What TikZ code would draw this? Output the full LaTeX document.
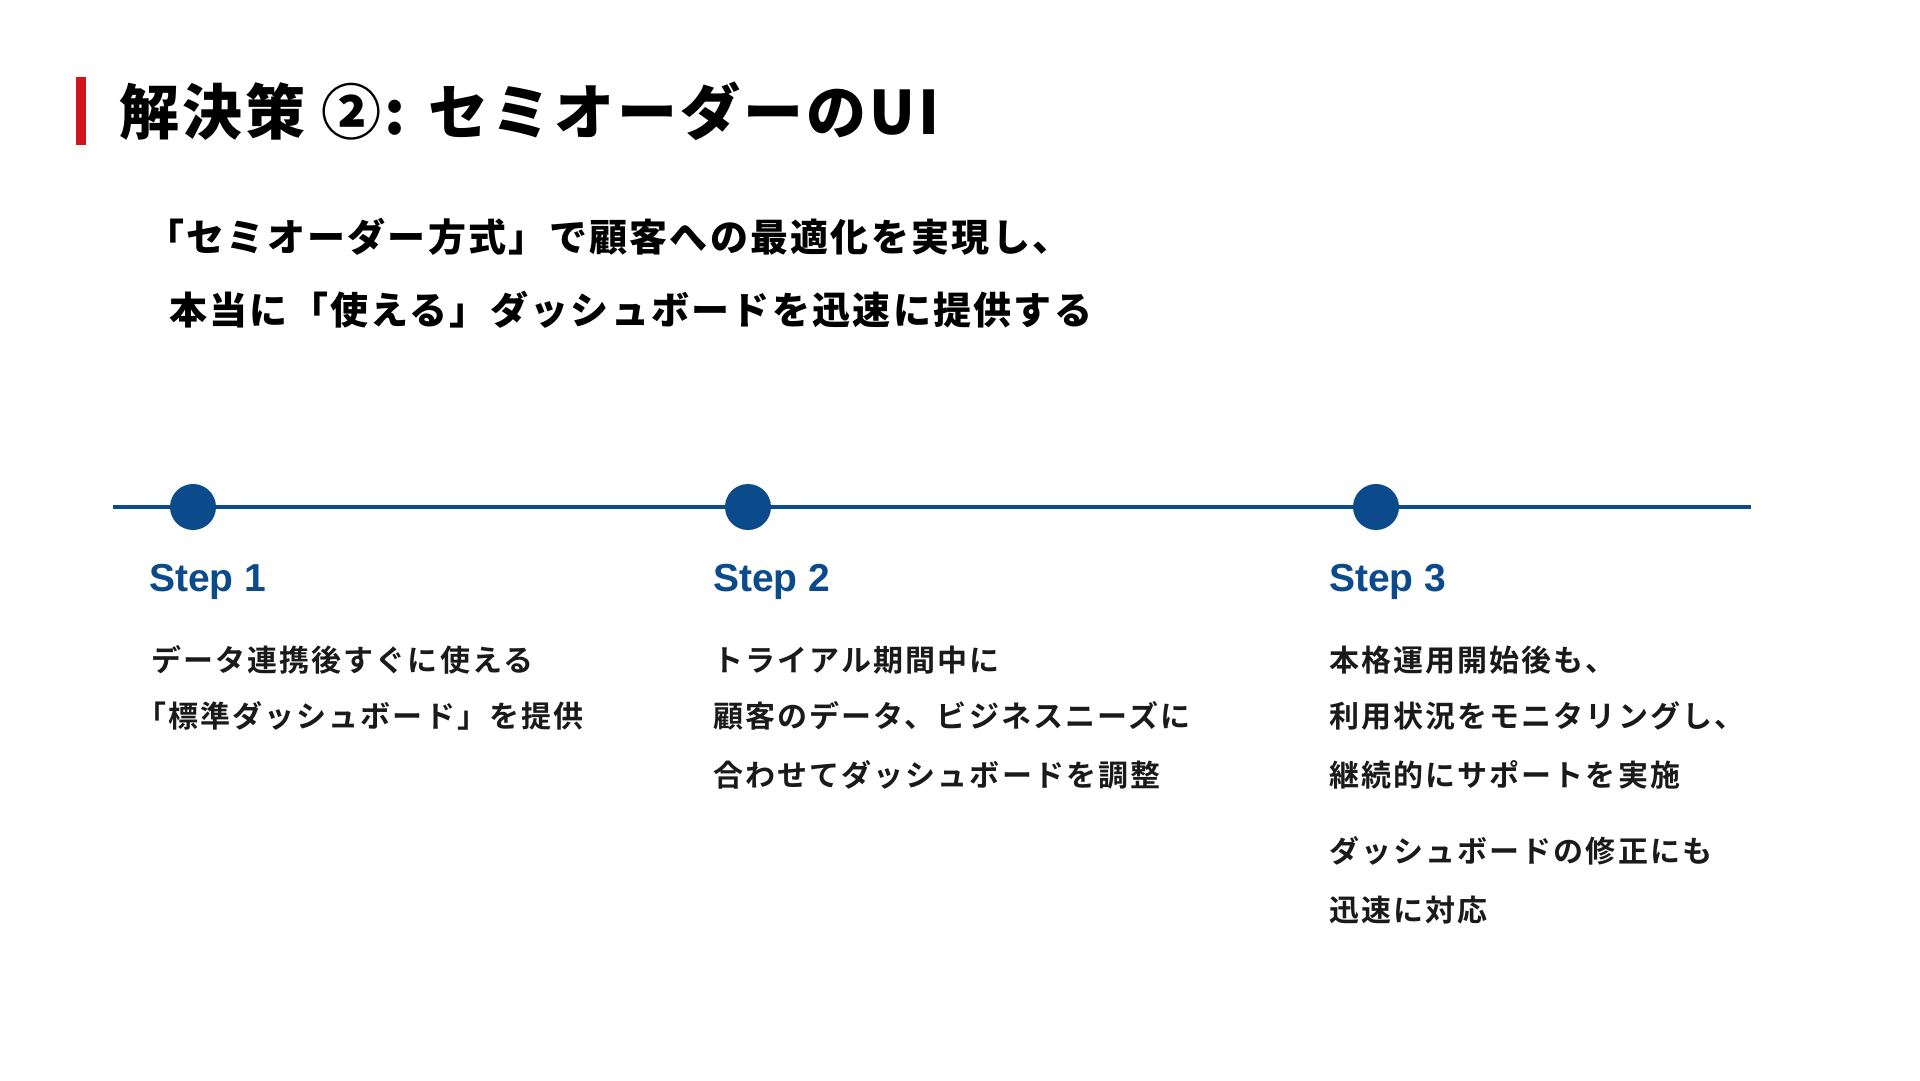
\documentclass[tikz,border=0pt]{standalone}
\usepackage{fontspec}
\newfontfamily\jptitle[LetterSpace=5]{Noto Sans CJK JP Black}
\newfontfamily\jpsub[LetterSpace=6]{Noto Sans CJK JP Black}
\newfontfamily\jpbody[LetterSpace=7]{Noto Sans CJK JP Bold}
\newfontfamily\arialf{Liberation Sans}
\definecolor{stepblue}{HTML}{0B4A8B}
\definecolor{accentred}{HTML}{D3141C}
\definecolor{bodyblack}{HTML}{1A1A1A}
\tikzset{
  titletext/.style={anchor=west,inner sep=0pt,font=\jptitle\fontsize{60}{72}\selectfont,text=black},
  subtext/.style={anchor=west,inner sep=0pt,font=\jpsub\fontsize{38}{46}\selectfont,text=black},
  steplabel/.style={anchor=west,inner sep=0pt,font=\arialf\bfseries\fontsize{39}{46}\selectfont,text=stepblue},
  bodytext/.style={anchor=west,inner sep=0pt,font=\jpbody\fontsize{30}{36}\selectfont,text=bodyblack},
  dot/.style={circle,fill=stepblue,minimum size=46pt,inner sep=0pt},
  timeline/.style={draw=stepblue,line width=4pt}
}
\begin{document}
\begin{tikzpicture}[x=1pt,y=-1pt]
\useasboundingbox[fill=white] (0,0) rectangle (1920,1080);
% title
\fill[accentred] (76,77) rectangle (86,145);
\node[titletext] (title) at (119,111) {解決策 ②: セミオーダーのUI};
% subtitle
\node[subtext] (sub1) at (146,237) {「セミオーダー方式」で顧客への最適化を実現し、};
\node[subtext] (sub2) at (169,310) {本当に「使える」ダッシュボードを迅速に提供する};
% timeline
\coordinate (tl0) at (113,507);
\coordinate (tl1) at (1751,507);
\draw[timeline] (tl0) -- (tl1);
\node[dot] (c1) at (193,507) {};
\node[dot] (c2) at (748,507) {};
\node[dot] (c3) at (1376,507) {};
% step labels
\node[steplabel] (s1) at (149,582) {Step 1};
\node[steplabel] (s2) at (713,582) {Step 2};
\node[steplabel] (s3) at (1329,582) {Step 3};
% step 1 body
\node[bodytext] (b11) at (151,660) {データ連携後すぐに使える};
\node[bodytext] (b12) at (136,716) {「標準ダッシュボード」を提供};
% step 2 body
\node[bodytext] (b21) at (713,660) {トライアル期間中に};
\node[bodytext] (b22) at (713,716) {顧客のデータ、ビジネスニーズに};
\node[bodytext] (b23) at (713,775) {合わせてダッシュボードを調整};
% step 3 body
\node[bodytext] (b31) at (1329,660) {本格運用開始後も、};
\node[bodytext] (b32) at (1329,716) {利用状況をモニタリングし、};
\node[bodytext] (b33) at (1329,775) {継続的にサポートを実施};
\node[bodytext] (b34) at (1329,851) {ダッシュボードの修正にも};
\node[bodytext] (b35) at (1329,910) {迅速に対応};
\end{tikzpicture}
\end{document}
